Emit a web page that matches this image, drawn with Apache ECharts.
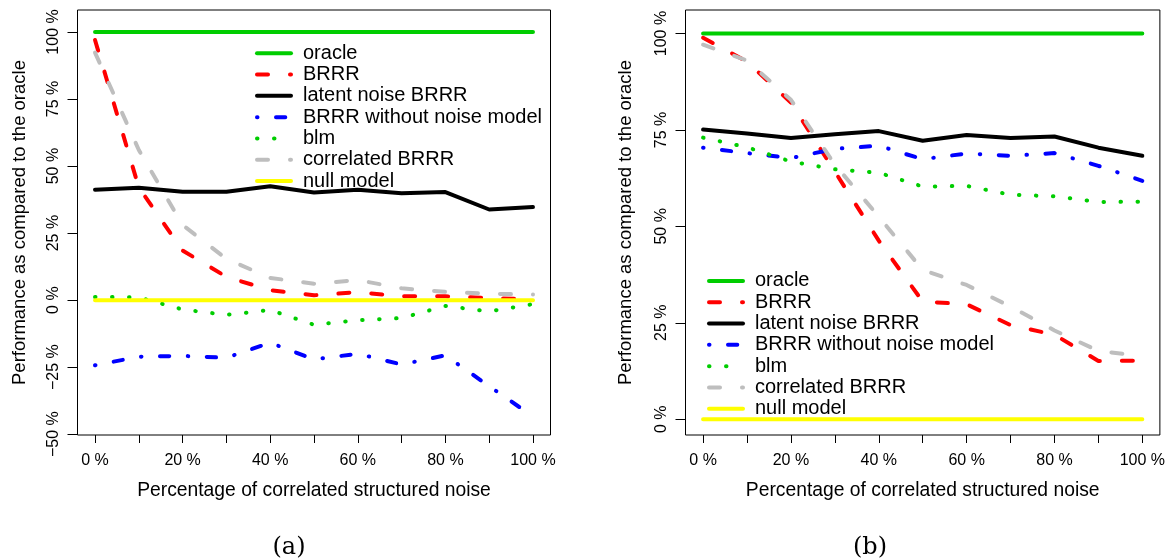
<!DOCTYPE html>
<html>
<head>
<meta charset="utf-8">
<script src="https://cdn.jsdelivr.net/npm/echarts@6/dist/echarts.min.js"></script>
<style>
html, body { margin: 0; padding: 0; background: #fff; }
#chart { width: 1168px; height: 560px; }
</style>
</head>
<body>
<div id="chart"></div>
<script>
// share of correlated structured noise (%)
var noise = [0, 10, 20, 30, 40, 50, 60, 70, 80, 90, 100];
var names = ['oracle', 'BRRR', 'latent noise BRRR', 'BRRR without noise model', 'blm', 'correlated BRRR', 'null model'];

// panel (a)
var oracleA = [100, 100, 100, 100, 100, 100, 100, 100, 100, 100, 100];
var brrrA = [97.0, 42.0, 18.5, 8.7, 3.7, 1.8, 3.0, 1.4, 1.4, 0.8, 0.3];
var latentA = [41.2, 41.9, 40.4, 40.4, 42.5, 40.1, 41.2, 39.9, 40.3, 33.8, 34.7];
var noModelA = [-24.3, -21.1, -20.8, -21.5, -15.9, -22.1, -20.0, -24.0, -20.6, -32.1, -43.4];
var blmA = [1.2, 1.0, -3.5, -5.5, -3.7, -9.2, -7.5, -6.7, -2.2, -4.2, -1.5];
var corrA = [92.3, 56.0, 28.0, 15.4, 8.3, 6.1, 7.5, 4.4, 3.1, 2.4, 2.1];
var nullA = [0, 0, 0, 0, 0, 0, 0, 0, 0, 0, 0];

// panel (b)
var oracleB = [100, 100, 100, 100, 100, 100, 100, 100, 100, 100, 100];
var brrrB = [98.9, 92.7, 82.1, 64.2, 46.3, 30.5, 29.8, 24.4, 21.9, 15.1, 15.2];
var latentB = [75.1, 74.1, 72.9, 73.9, 74.7, 72.2, 73.7, 72.9, 73.3, 70.4, 68.3];
var noModelB = [70.4, 69.0, 67.7, 70.1, 70.9, 67.4, 68.9, 68.3, 69.0, 65.7, 61.8];
var blmB = [73.0, 70.5, 66.8, 64.8, 63.9, 60.3, 60.5, 58.2, 57.8, 56.3, 56.4];
var corrB = [97.1, 93.0, 82.8, 66.0, 52.5, 38.7, 34.8, 29.2, 23.0, 17.7, 16.4];
var nullB = [0, 0, 0, 0, 0, 0, 0, 0, 0, 0, 0];

// ticks
var xTicks = [0, 10, 20, 30, 40, 50, 60, 70, 80, 90, 100];
var xLabels = [0, 20, 40, 60, 80, 100];
var yTicksA = [-50, -25, 0, 25, 50, 75, 100];
var yTicksB = [0, 25, 50, 75, 100];

var FONT = '"Liberation Sans", Arial, sans-serif';

var styles = [
    { color: '#00CD00', type: 'solid' },
    { color: '#FF0000', type: [11, 22] },
    { color: '#000000', type: 'solid' },
    { color: '#0000FF', type: [0.5, 18.5, 9.3, 18.5] },
    { color: '#00CD00', type: [0.5, 16.5] },
    { color: '#BEBEBE', type: [11, 22] },
    { color: '#FFFF00', type: 'solid' }
];

function pairs(ys) {
    return noise.map(function (x, i) { return [x, ys[i]]; });
}

function pct(v) {
    return (v < 0 ? '\u2212' + (-v) : v) + ' %';
}

function makeSeries(idx, sets) {
    return sets.map(function (ys, k) {
        return {
            name: names[k],
            type: 'line',
            xAxisIndex: idx,
            yAxisIndex: idx,
            data: pairs(ys),
            symbol: 'none',
            silent: true,
            animation: false,
            lineStyle: { color: styles[k].color, width: 4, type: styles[k].type, cap: 'round' },
            itemStyle: { color: styles[k].color }
        };
    });
}

function xAxis(idx) {
    return {
        type: 'value', gridIndex: idx, min: -4, max: 104,
        axisLine: { show: false, onZero: false },
        splitLine: { show: false },
        axisTick: { show: true, length: 8, customValues: xTicks, lineStyle: { color: '#000' } },
        axisLabel: {
            customValues: xLabels, margin: 18, color: '#000',
            fontFamily: FONT, fontSize: 16, formatter: pct
        },
        name: 'Percentage of correlated structured noise',
        nameLocation: 'middle', nameGap: 46,
        nameTextStyle: { fontFamily: FONT, fontSize: 19.3, color: '#000' }
    };
}

function yAxis(idx, min, max, ticks, gap) {
    return {
        type: 'value', gridIndex: idx, min: min, max: max,
        axisLine: { show: false, onZero: false },
        splitLine: { show: false },
        axisTick: { show: true, length: 10, customValues: ticks, lineStyle: { color: '#000' } },
        axisLabel: {
            customValues: ticks, rotate: 90, margin: 16, color: '#000',
            align: 'center', verticalAlign: 'bottom',
            fontFamily: FONT, fontSize: 16, formatter: pct
        },
        name: 'Performance as compared to the oracle',
        nameLocation: 'middle', nameRotate: 90, nameGap: gap,
        nameTextStyle: { fontFamily: FONT, fontSize: 18.5, color: '#000' }
    };
}

function legend(left, top) {
    return {
        data: names, orient: 'vertical', left: left, top: top,
        itemWidth: 34, itemHeight: 14, itemGap: 0,
        selectedMode: false,
        itemStyle: { opacity: 0 },
        lineStyle: { width: 4, cap: 'round' },
        textStyle: { fontFamily: FONT, fontSize: 20, color: '#000', lineHeight: 21.3, padding: [0, 0, 0, 7] }
    };
}

var chart = echarts.init(document.getElementById('chart'));
chart.setOption({
    backgroundColor: '#fff',
    animation: false,
    grid: [
        { left: 77.5, top: 10, width: 473, height: 425, show: true, borderColor: '#000', borderWidth: 1 },
        { left: 685.5, top: 10, width: 476, height: 425, show: true, borderColor: '#000', borderWidth: 1 }
    ],
    xAxis: [xAxis(0), xAxis(1)],
    yAxis: [yAxis(0, -50.3, 108.2, yTicksA, 48), yAxis(1, -4.1, 106.1, yTicksB, 50)],
    legend: [legend(250, 37.6), legend(702, 265.3)],
    series: makeSeries(0, [oracleA, brrrA, latentA, noModelA, blmA, corrA, nullA])
        .concat(makeSeries(1, [oracleB, brrrB, latentB, noModelB, blmB, corrB, nullB])),
    graphic: [
        { type: 'text', x: 289, y: 548, style: { text: '(a)', align: 'center', verticalAlign: 'middle', font: '24px "DejaVu Serif", serif', fill: '#000' } },
        { type: 'text', x: 870, y: 548, style: { text: '(b)', align: 'center', verticalAlign: 'middle', font: '24px "DejaVu Serif", serif', fill: '#000' } }
    ]
});
</script>
</body>
</html>
